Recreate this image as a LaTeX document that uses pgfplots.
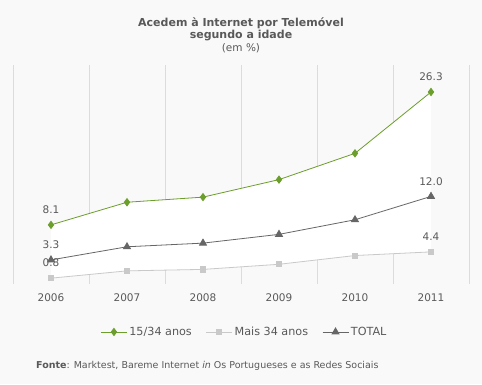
\documentclass[border=0pt]{standalone}
\usepackage{pgfplots}
\pgfplotsset{compat=1.18}
\usepackage{fontspec}
\setmainfont{DejaVu Sans}
\definecolor{cgreen}{HTML}{6B9E2A}
\definecolor{clight}{HTML}{C9C9C9}
\definecolor{cdark}{HTML}{666666}
\definecolor{ctext}{HTML}{595959}
\definecolor{cgrid}{HTML}{DCDCDC}
\definecolor{cbg}{HTML}{F9F9F9}
\begin{document}
\begin{tikzpicture}[x=1pt,y=1pt]
\fill[cbg] (0,0) rectangle (482,384);
\path[use as bounding box] (0,0) rectangle (482,384);
\begin{axis}[
  at={(13pt,100pt)}, anchor=south west,
  scale only axis, width=456pt, height=219pt,
  xmin=-0.5, xmax=5.5, ymin=0, ymax=30,
  axis line style={draw=none},
  xtick={0,...,5},
  xticklabels={2006,2007,2008,2009,2010,2011},
  minor xtick={-0.5,0.5,1.5,2.5,3.5,4.5,5.5},
  xminorgrids=true,
  minor grid style={cgrid, line width=0.8pt},
  ytick=\empty,
  major tick length=0pt, minor tick length=0pt,
  xticklabel style={font=\fontsize{10.5}{12}\selectfont, text=ctext, yshift=-6pt},
  every node near coord/.append style={font=\fontsize{10.5}{12}\selectfont, text=ctext, anchor=center, yshift=15pt},
  legend columns=3,
  legend style={at={(0.5077,-0.219)}, anchor=center, draw=none, fill=none,
    font=\fontsize{11.2}{12}\selectfont, text=ctext,
    /tikz/every even column/.append style={column sep=12pt}},
  legend image code/.code={\draw[#1, mark repeat=2, mark phase=2] plot coordinates {(0pt,0pt) (13pt,0pt) (26pt,0pt)};},
  clip=false,
]
\addplot[fill=white, draw=none, forget plot]
  coordinates {(0,8.1) (1,11.2) (2,11.9) (3,14.3) (4,17.9) (5,26.3) (5,4.4) (4,3.9) (3,2.7) (2,2.0) (1,1.8) (0,0.8)} -- cycle;
\addplot[color=cgreen, line width=0.8pt, mark=diamond*, mark size=3.6pt, mark options={fill=cgreen, draw=cgreen},
  point meta=explicit symbolic, nodes near coords]
  coordinates {(0,8.1)[8.1] (1,11.2)[] (2,11.9)[] (3,14.3)[] (4,17.9)[] (5,26.3)[26.3]};
\addlegendentry{15/34 anos}
\addplot[color=clight, line width=0.8pt, mark=square*, mark size=2.6pt, mark options={fill=clight, draw=clight},
  point meta=explicit symbolic, nodes near coords]
  coordinates {(0,0.8)[0.8] (1,1.8)[] (2,2.0)[] (3,2.7)[] (4,3.9)[] (5,4.4)[4.4]};
\addlegendentry{Mais 34 anos}
\addplot[color=cdark, line width=0.8pt, mark=triangle*, mark size=4pt, mark options={fill=cdark, draw=cdark},
  point meta=explicit symbolic, nodes near coords]
  coordinates {(0,3.3)[3.3] (1,5.1)[] (2,5.6)[] (3,6.8)[] (4,8.8)[] (5,12.0)[12.0]};
\addlegendentry{TOTAL}
\end{axis}
\node[anchor=base, inner sep=0pt, font=\bfseries\fontsize{11}{12}\selectfont, text=ctext] at (241,358) {Acedem à Internet por Telemóvel};
\node[anchor=base, inner sep=0pt, font=\bfseries\fontsize{11}{12}\selectfont, text=ctext] at (241,345.5) {segundo a idade};
\node[anchor=base, inner sep=0pt, font=\fontsize{10.5}{12}\selectfont, text=ctext] at (241,333) {(em \%)};
\node[anchor=west, font=\fontsize{9.5}{11}\selectfont, text=ctext, inner sep=0pt] at (36,18) {\textbf{Fonte}: Marktest, Bareme Internet \textit{in} Os Portugueses e as Redes Sociais};
\end{tikzpicture}
\end{document}
